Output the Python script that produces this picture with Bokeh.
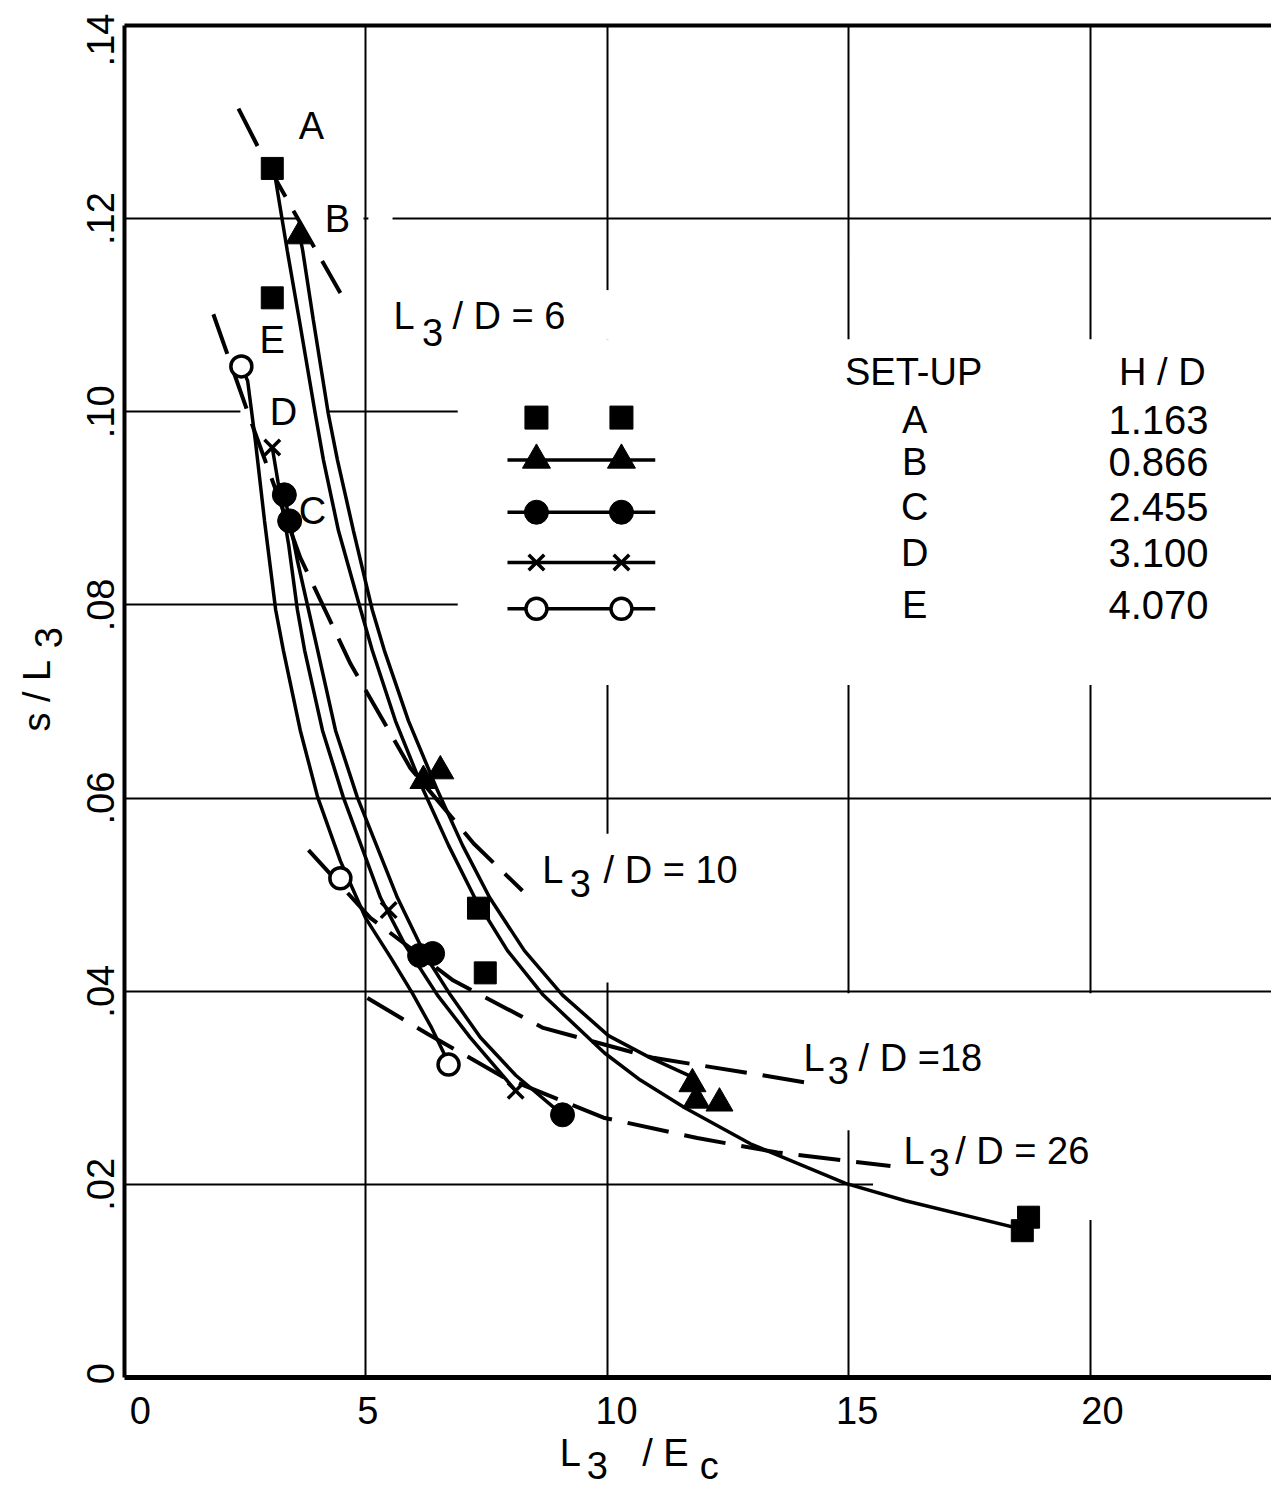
import math
from bokeh.plotting import figure
from bokeh.models import Range1d, FixedTicker, Label, BoxAnnotation, Grid
from bokeh.embed import file_html
from bokeh.resources import INLINE

# ---------------- data ----------------
# Set-up A (filled squares)
a_x = [3.06, 3.06, 7.33, 7.47, 18.59, 18.72]
a_y = [0.1252, 0.1118, 0.0486, 0.0419, 0.0152, 0.0166]
# Set-up B (filled triangles)
b_x = [3.62, 6.19, 6.54, 11.76, 11.84, 12.32]
b_y = [0.1182, 0.0618, 0.0628, 0.0304, 0.0287, 0.0284]
# Set-up C (filled circles)
c_x = [3.31, 3.42, 6.11, 6.38, 9.07]
c_y = [0.0914, 0.0887, 0.0437, 0.0439, 0.0272]
# Set-up D (crosses)
d_x = [3.06, 5.47, 8.10]
d_y = [0.0963, 0.0484, 0.0297]
# Set-up E (open circles)
e_x = [2.42, 4.47, 6.71]
e_y = [0.1047, 0.0517, 0.0324]

# faired solid curves
curve_a_x = [3.06, 3.13, 3.37, 3.62, 3.95, 4.12, 4.43, 4.89, 5.13, 5.61, 6.19, 6.71,
             7.25, 7.93, 8.67, 9.94, 10.68, 11.61, 12.96, 14.93, 16.17, 18.55]
curve_a_y = [0.1252, 0.1240, 0.1167, 0.1095, 0.0998, 0.0950, 0.0877, 0.0795, 0.0753,
             0.0680, 0.0608, 0.0551, 0.0497, 0.0442, 0.0396, 0.0336, 0.0308, 0.0279,
             0.0242, 0.0201, 0.0183, 0.0154]
curve_b_x = [3.64, 3.69, 3.91, 4.22, 4.41, 4.74, 5.13, 5.38, 5.88, 6.48, 7.00, 7.56,
             8.28, 9.07, 10.02, 10.89, 11.76]
curve_b_y = [0.1180, 0.1167, 0.1095, 0.0998, 0.0950, 0.0877, 0.0795, 0.0753, 0.0680,
             0.0608, 0.0551, 0.0497, 0.0442, 0.0396, 0.0354, 0.0331, 0.0311]
curve_c_x = [3.31, 3.42, 3.58, 3.81, 4.00, 4.37, 4.82, 5.65, 6.23, 6.75, 7.37, 8.10, 9.07]
curve_c_y = [0.0914, 0.0887, 0.0846, 0.0795, 0.0753, 0.0670, 0.0601, 0.0497, 0.0437,
             0.0396, 0.0352, 0.0313, 0.0272]
curve_d_x = [3.06, 3.21, 3.40, 3.58, 3.73, 4.10, 4.53, 5.30, 5.82, 6.48, 7.16, 8.10]
curve_d_y = [0.0963, 0.0918, 0.0862, 0.0795, 0.0753, 0.0670, 0.0601, 0.0497, 0.0447,
             0.0396, 0.0352, 0.0297]
curve_e_x = [2.42, 2.55, 2.71, 2.90, 3.13, 3.29, 3.64, 4.00, 4.47, 4.99, 5.51, 5.96,
             6.36, 6.71]
curve_e_y = [0.1047, 0.1032, 0.0970, 0.0887, 0.0795, 0.0753, 0.0670, 0.0601, 0.0535,
             0.0476, 0.0435, 0.0398, 0.0362, 0.0326]

# dashed lines of constant L3/D
ld6_x = [2.36, 2.88, 3.50, 4.47]
ld6_y = [0.1314, 0.1263, 0.1208, 0.1123]
ld10_x = [1.84, 2.67, 3.64, 4.68, 5.92, 7.23, 8.24]
ld10_y = [0.1101, 0.0983, 0.0849, 0.0739, 0.0631, 0.0553, 0.0504]
ld18_x = [3.81, 5.09, 6.81, 8.67, 10.95, 12.96, 14.16]
ld18_y = [0.0546, 0.0476, 0.0411, 0.0362, 0.0331, 0.0315, 0.0305]
ld26_x = [5.03, 6.27, 7.85, 9.92, 11.86, 13.52, 15.86]
ld26_y = [0.0393, 0.0356, 0.0311, 0.0269, 0.0248, 0.0233, 0.0219]

# legend table
setup_names = ["A", "B", "C", "D", "E"]
hd_values = ["1.163", "0.866", "2.455", "3.100", "4.070"]

# axes
x_ticks = [0, 5, 10, 15, 20]
x_tick_labels = ["0", "5", "10", "15", "20"]
y_ticks = [0, 0.02, 0.04, 0.06, 0.08, 0.10, 0.12, 0.14]
y_tick_labels = ["0", ".02", ".04", ".06", ".08", ".10", ".12", ".14"]
x_grid = [5, 10, 15, 20]
y_grid = [0.02, 0.04, 0.06, 0.08, 0.10, 0.12]

# ---------------- layout constants ----------------
FONT = "Liberation Sans"
INK = "black"
X0, X1 = 0.0, 23.75          # plotted data window
Y0, Y1 = 0.0, 0.14
PXX, PXY = 48.3, 9657.0      # pixels per data unit
LEFT_M, BOTTOM_M, TOP_M = 124, 115, 25

p = figure(width=1271, height=1492,
           x_range=Range1d(X0 - LEFT_M / PXX, X1),
           y_range=Range1d(Y0 - BOTTOM_M / PXY, Y1 + TOP_M / PXY),
           x_axis_type=None, y_axis_type=None,
           output_backend="svg", toolbar_location=None, min_border=0)
p.outline_line_color = None
p.background_fill_color = "white"
p.border_fill_color = "white"

has_cross = "cross_bounds" in Grid.properties()
for dim, ticks, bnd, cross in [(0, x_grid, (X0, X1), (Y0, Y1)), (1, y_grid, (Y0, Y1), (X0, X1))]:
    kw = dict(dimension=dim, ticker=FixedTicker(ticks=ticks), bounds=bnd,
              grid_line_color=INK, grid_line_width=2)
    if has_cross:
        kw["cross_bounds"] = cross
    p.add_layout(Grid(**kw))

# white masks that interrupt the printed grid around lettering
masks = [
    (6.9, X1, 0.0717, 0.1075),
    (9.9, 10.1, 0.1075, 0.1126),
    (3.6, 4.95, 0.1185, 0.1215),
    (5.05, 5.55, 0.1185, 0.1215),
    (2.4, 4.2, 0.0985, 0.1015),
    (9.9, 10.1, 0.0409, 0.0563),
    (14.9, 15.1, 0.0256, 0.0398),
    (19.9, 20.1, 0.0163, 0.0398),
    (15.5, X1, 0.0185, 0.0215),
]
if not has_cross:
    masks += [(X0 - 3, X0, Y0 - 0.02, Y1 + 0.01), (X0 - 3, X1, Y0 - 0.02, Y0),
              (X0 - 3, X1, Y1, Y1 + 0.01)]
for l, r, b, t in masks:
    p.add_layout(BoxAnnotation(left=l, right=r, bottom=b, top=t, fill_color="white",
                               fill_alpha=1.0, line_color=None, level="underlay"))

# frame lines: left, bottom and top borders (no right border in the original)
p.line([X0, X0], [Y0, Y1], line_color=INK, line_width=4)
p.line([X0, X1], [Y0, Y0], line_color=INK, line_width=5)
p.line([X0, X1], [Y1, Y1], line_color=INK, line_width=4)

# solid faired curves
for cx, cy in [(curve_a_x, curve_a_y), (curve_b_x, curve_b_y), (curve_c_x, curve_c_y),
               (curve_d_x, curve_d_y), (curve_e_x, curve_e_y)]:
    p.line(cx, cy, line_color=INK, line_width=3.5)

# dashed constant L3/D lines
for lx, ly in [(ld6_x, ld6_y), (ld10_x, ld10_y), (ld18_x, ld18_y), (ld26_x, ld26_y)]:
    p.line(lx, ly, line_color=INK, line_width=4, line_dash="42 16")

# data points
p.scatter(a_x, a_y, marker="square", size=22, fill_color=INK, line_color=INK)
p.scatter(b_x, b_y, marker="triangle", size=27, fill_color=INK, line_color=INK)
p.scatter(c_x, c_y, marker="circle", size=24, fill_color=INK, line_color=INK)
p.scatter(d_x, d_y, marker="x", size=22, line_color=INK, line_width=3.5)
p.scatter(e_x, e_y, marker="circle", size=21, fill_color="white", line_color=INK, line_width=3.5)

# ---------------- legend (drawn like the original table) ----------------
leg_mx = [8.53, 10.29]
leg_line = [7.93, 10.99]
row_y = [0.0994, 0.0950, 0.0896, 0.0844, 0.0796]
p.scatter(leg_mx, [row_y[0]] * 2, marker="square", size=23, fill_color=INK, line_color=INK)
for i in range(1, 5):
    p.line(leg_line, [row_y[i]] * 2, line_color=INK, line_width=3.5)
p.scatter(leg_mx, [row_y[1]] * 2, marker="triangle", size=28, fill_color=INK, line_color=INK)
p.scatter(leg_mx, [row_y[2]] * 2, marker="circle", size=24, fill_color=INK, line_color=INK)
p.scatter(leg_mx, [row_y[3]] * 2, marker="x", size=22, line_color=INK, line_width=3.5)
p.scatter(leg_mx, [row_y[4]] * 2, marker="circle", size=21, fill_color="white",
          line_color=INK, line_width=3.5)


def lab(x, y, t, size=38, align="center", angle=0.0):
    p.add_layout(Label(x=x, y=y, text=t, text_font=FONT, text_font_size=f"{size}px",
                       text_align=align, text_baseline="middle", angle=angle,
                       text_color=INK))


text_row_y = [0.0991, 0.0948, 0.0901, 0.0854, 0.0800]
lab(16.34, 0.1041, "SET-UP")
lab(21.49, 0.1041, "H / D")
for name, val, ty in zip(setup_names, hd_values, text_row_y):
    lab(16.36, ty, name)
    lab(21.41, ty, val, size=40)

# point labels
lab(3.87, 0.1296, "A")
lab(4.41, 0.1200, "B")
lab(3.06, 0.1074, "E")
lab(3.29, 0.1000, "D")
lab(3.89, 0.0897, "C")

# L3/D labels (L, subscript 3, rest)
for (lx, ly, sx, sy, rx, rest) in [
    (5.57, 0.1099, 6.38, 0.1082, 6.79, "/ D = 6"),
    (8.65, 0.0525, 9.44, 0.0512, 9.92, "/ D = 10"),
    (14.06, 0.0331, 14.78, 0.0318, 15.20, "/ D =18"),
    (16.13, 0.0235, 16.87, 0.0223, 17.20, "/ D = 26"),
]:
    lab(lx, ly, "L", align="left")
    lab(sx, sy, "3")
    lab(rx, ly, rest, align="left")

# tick labels
x_tick_dx = [0.33, 0.04, 0.19, 0.17, 0.25]
x_tick_y = -0.0034
for t, s, dx in zip(x_ticks, x_tick_labels, x_tick_dx):
    lab(t + dx, x_tick_y, s)
y_tick_x = -0.50
y_tick_dy = [0.0004, 0, 0, 0, 0, 0, 0, -0.0015]
for t, s, dy in zip(y_ticks, y_tick_labels, y_tick_dy):
    lab(y_tick_x, t + dy, s, angle=math.pi / 2)

# axis titles
lab(9.01, -0.0078, "L", align="left")
lab(9.79, -0.0091, "3")
lab(10.72, -0.0078, "/ E", align="left")
lab(12.11, -0.0092, "c")
lab(-1.82, 0.0706, "s / L", angle=math.pi / 2)
lab(-1.57, 0.0766, "3", angle=math.pi / 2)

open("out.html", "w").write(file_html(p, INLINE))
